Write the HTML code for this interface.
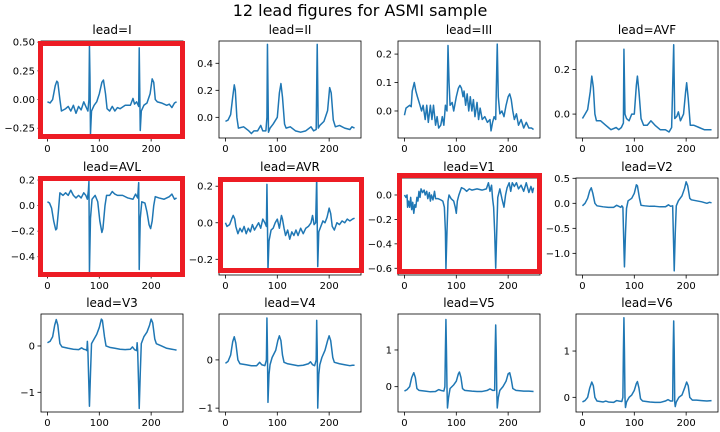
<!DOCTYPE html>
<html><head><meta charset="utf-8"><style>
html,body{margin:0;padding:0;background:#fff;}
svg{display:block;font-family:"DejaVu Sans","Liberation Sans",sans-serif;}
</style></head><body>
<svg id="fig" width="720" height="432" viewBox="0 0 720 432" xmlns="http://www.w3.org/2000/svg">
<rect width="720" height="432" fill="#fff"/>
<text x="360" y="16" text-anchor="middle" font-size="16" fill="#000">12 lead figures for ASMI sample</text>
</svg>
<script>
const leadNames = ["I","II","III","AVF","AVL","AVR","V1","V2","V3","V4","V5","V6"];
const xTicks = [0,100,200];
const leadI = [[0,-0.02],[5,-0.03],[10,0.0],[15,0.12],[18,0.16],[20,0.15],[24,0.0],[27,-0.1],[35,-0.08],[40,-0.06],[45,-0.1],[50,-0.05],[55,-0.12],[60,-0.06],[65,-0.09],[70,-0.02],[74,-0.06],[78,-0.1],[80,0.0],[81,0.47],[82,0.2],[83,-0.3],[85,-0.1],[90,-0.05],[95,-0.02],[100,0.05],[105,0.15],[108,0.17],[112,0.05],[115,-0.08],[120,-0.1],[125,-0.06],[130,-0.1],[135,-0.07],[140,-0.08],[150,-0.05],[160,-0.05],[165,0.01],[168,-0.04],[172,-0.02],[176,-0.06],[177,0.45],[178,0.1],[179,-0.27],[181,-0.1],[186,-0.05],[192,-0.03],[198,0.05],[202,0.18],[205,0.15],[208,0.0],[212,-0.02],[220,-0.03],[230,-0.05],[235,-0.04],[240,-0.07],[245,-0.03],[249,-0.02]];
const leadII = [[0,-0.03],[5,-0.02],[10,0.02],[14,0.15],[17,0.24],[19,0.2],[22,0.0],[25,-0.08],[35,-0.07],[45,-0.1],[50,-0.12],[55,-0.1],[62,-0.1],[68,-0.06],[72,-0.1],[78,-0.1],[80,0.0],[81,0.54],[83,-0.11],[86,-0.08],[92,-0.05],[100,0.0],[104,0.18],[107,0.25],[110,0.15],[114,-0.05],[117,-0.08],[125,-0.07],[135,-0.1],[145,-0.11],[155,-0.1],[165,-0.07],[170,-0.1],[175,-0.09],[177,0.54],[179,-0.08],[182,-0.06],[190,-0.03],[197,0.05],[201,0.22],[204,0.18],[208,-0.02],[212,-0.07],[220,-0.06],[230,-0.08],[240,-0.09],[244,-0.07],[249,-0.08]];
const leadIII = [[0,-0.015],[3,0.01],[10,0.02],[13,0.015],[15,0.07],[19,0.1],[22,0.07],[25,0.05],[30,0.02],[33,0.0],[36,0.02],[40,-0.03],[43,0.02],[46,-0.04],[50,0.02],[53,-0.03],[56,0.02],[60,-0.05],[63,-0.02],[66,-0.06],[70,-0.05],[73,-0.02],[76,-0.05],[79,0.02],[82,0.0],[84,0.23],[86,0.1],[88,0.02],[92,0.03],[95,0.0],[100,0.05],[104,0.08],[107,0.09],[110,0.08],[113,0.05],[115,0.07],[118,0.02],[121,0.06],[124,0.0],[127,0.05],[130,0.0],[133,0.04],[136,-0.02],[140,0.03],[143,-0.03],[146,0.01],[150,-0.03],[155,-0.02],[160,-0.04],[165,-0.03],[167,-0.07],[170,-0.04],[173,-0.02],[176,-0.03],[179,0.235],[181,0.05],[184,-0.01],[188,0.0],[192,-0.02],[196,0.02],[200,0.05],[203,0.06],[206,0.04],[209,0.0],[212,-0.03],[216,-0.01],[220,-0.05],[225,-0.03],[230,-0.06],[235,-0.04],[240,-0.06],[245,-0.06],[249,-0.065]];
const leadAVF = [[0,-0.02],[5,0.0],[10,0.02],[15,0.1],[18,0.17],[21,0.12],[24,0.0],[27,-0.03],[35,-0.03],[45,-0.05],[50,-0.06],[55,-0.07],[65,-0.06],[70,-0.07],[75,-0.06],[79,-0.04],[80,0.29],[82,0.0],[85,-0.02],[90,-0.03],[95,0.0],[100,0.0],[104,0.13],[106,0.17],[109,0.1],[113,-0.02],[118,-0.05],[125,-0.05],[132,-0.03],[140,-0.05],[150,-0.07],[160,-0.07],[167,-0.08],[172,-0.06],[176,0.31],[178,-0.02],[182,-0.01],[185,0.01],[189,-0.03],[195,0.0],[199,0.1],[201,0.14],[204,0.07],[208,-0.05],[215,-0.05],[225,-0.06],[235,-0.07],[245,-0.07],[249,-0.07]];
const leadAVL = [[0,0.03],[4,0.02],[8,-0.02],[12,-0.12],[16,-0.19],[18,-0.18],[21,-0.05],[24,0.1],[30,0.08],[35,0.1],[40,0.08],[45,0.12],[50,0.08],[55,0.06],[60,0.08],[65,0.06],[70,0.1],[74,0.08],[77,0.05],[79,0.12],[80,0.19],[81,-0.52],[83,-0.1],[86,0.05],[92,0.08],[97,0.03],[101,-0.12],[105,-0.21],[107,-0.18],[111,0.0],[114,0.08],[120,0.08],[125,0.11],[130,0.09],[135,0.08],[145,0.08],[155,0.06],[165,0.05],[170,0.09],[174,0.06],[176,0.18],[177,-0.5],[179,-0.1],[182,0.03],[188,0.02],[192,-0.05],[196,-0.15],[199,-0.18],[202,-0.12],[205,0.0],[208,0.07],[215,0.06],[225,0.05],[235,0.07],[240,0.09],[245,0.05],[249,0.06]];
const leadAVR = [[0,0.0],[3,-0.02],[8,-0.01],[12,0.02],[15,0.04],[18,0.02],[20,-0.02],[24,-0.06],[28,-0.03],[32,-0.05],[36,-0.02],[40,-0.06],[44,-0.03],[48,-0.05],[52,-0.01],[56,-0.04],[60,-0.02],[64,0.0],[68,-0.03],[72,0.02],[76,0.0],[79,-0.02],[80,0.21],[81,0.0],[82,-0.26],[84,-0.1],[88,-0.04],[92,-0.03],[96,0.0],[100,0.02],[104,-0.03],[108,0.04],[110,0.02],[113,-0.03],[116,-0.07],[120,-0.04],[124,-0.09],[128,-0.05],[132,-0.07],[136,-0.04],[140,-0.07],[145,-0.03],[150,-0.06],[155,-0.03],[160,-0.02],[165,0.0],[168,0.04],[171,-0.01],[174,0.0],[176,0.25],[177,0.0],[178,-0.24],[180,-0.05],[184,-0.02],[188,0.01],[192,0.0],[196,0.03],[200,0.08],[203,0.05],[206,-0.02],[210,-0.04],[215,0.0],[220,-0.01],[225,0.01],[230,0.0],[235,0.02],[240,0.01],[245,0.02],[249,0.025]];
const leadV1 = [[0,0.0],[3,-0.02],[5,0.0],[6,-0.1],[8,-0.05],[10,-0.1],[12,-0.02],[14,-0.12],[16,-0.06],[18,-0.15],[20,-0.08],[22,-0.1],[24,-0.02],[26,-0.05],[28,0.03],[30,-0.02],[32,0.05],[35,0.02],[38,0.04],[40,0.0],[43,0.03],[45,-0.03],[48,0.02],[50,-0.05],[52,0.0],[55,-0.04],[58,0.03],[60,-0.03],[65,-0.03],[70,-0.04],[74,-0.05],[77,-0.1],[79,-0.3],[80,-0.61],[82,-0.3],[84,-0.05],[86,0.0],[90,-0.03],[95,-0.05],[98,-0.1],[100,-0.15],[102,-0.05],[105,0.0],[110,0.06],[115,0.05],[120,0.03],[125,0.05],[130,0.04],[140,0.05],[150,0.04],[158,0.05],[162,0.1],[165,0.03],[168,0.08],[170,-0.03],[172,-0.1],[174,-0.3],[176,-0.6],[178,-0.3],[180,-0.02],[184,0.05],[188,-0.03],[192,-0.1],[195,0.0],[198,0.06],[202,0.1],[205,0.03],[208,0.1],[212,0.07],[216,0.1],[220,0.05],[225,0.08],[230,0.03],[235,0.1],[240,0.02],[244,0.07],[247,0.02],[249,0.06]];
const leadV2 = [[0,-0.05],[5,0.0],[10,0.1],[14,0.25],[17,0.31],[20,0.2],[24,0.0],[28,-0.05],[40,-0.07],[50,-0.08],[60,-0.08],[66,-0.04],[70,-0.06],[74,-0.08],[76,-0.05],[78,-0.08],[80,-0.9],[81,-1.27],[83,-0.6],[85,-0.1],[88,0.05],[95,0.1],[100,0.2],[104,0.37],[106,0.35],[110,0.1],[113,-0.04],[120,-0.05],[130,-0.06],[140,-0.06],[150,-0.07],[160,-0.07],[166,-0.03],[170,-0.06],[174,-0.05],[176,-0.9],[177,-1.35],[179,-0.6],[181,-0.05],[185,0.05],[192,0.15],[197,0.3],[200,0.43],[203,0.35],[207,0.1],[210,0.07],[220,0.05],[230,0.03],[240,0.0],[245,0.02],[249,0.01]];
const leadV3 = [[0,0.07],[5,0.1],[10,0.2],[14,0.45],[17,0.57],[20,0.45],[24,0.05],[28,-0.02],[40,-0.05],[50,-0.07],[60,-0.08],[66,-0.04],[70,-0.07],[74,-0.08],[76,-0.1],[77,0.1],[78,-0.1],[80,-0.9],[81,-1.3],[83,-0.6],[85,0.05],[90,0.15],[95,0.25],[100,0.4],[104,0.58],[106,0.55],[110,0.2],[113,0.0],[120,-0.03],[130,-0.05],[140,-0.07],[150,-0.08],[160,-0.07],[164,-0.02],[168,-0.08],[172,-0.1],[173,0.07],[174,-0.1],[176,-0.9],[177,-1.35],[179,-0.6],[181,0.05],[186,0.2],[192,0.3],[197,0.45],[200,0.58],[203,0.5],[207,0.15],[210,0.05],[220,0.0],[230,-0.05],[240,-0.07],[245,-0.08],[249,-0.09]];
const leadV4 = [[0,-0.07],[5,-0.03],[10,0.1],[14,0.38],[17,0.48],[20,0.35],[24,0.0],[28,-0.08],[40,-0.1],[50,-0.12],[60,-0.12],[66,-0.05],[70,-0.1],[76,-0.12],[79,0.0],[80,0.87],[81,0.2],[82,-0.88],[84,-0.3],[86,-0.1],[90,0.05],[97,0.2],[101,0.4],[104,0.5],[107,0.4],[110,0.1],[113,-0.05],[120,-0.08],[130,-0.1],[140,-0.12],[150,-0.11],[160,-0.08],[164,-0.04],[168,-0.1],[172,-0.12],[175,0.0],[176,0.82],[177,0.2],[178,-1.0],[180,-0.3],[182,-0.1],[186,0.05],[192,0.2],[197,0.4],[200,0.5],[203,0.4],[207,0.05],[210,-0.05],[220,-0.08],[230,-0.1],[240,-0.12],[245,-0.11],[249,-0.11]];
const leadV5 = [[0,-0.12],[5,-0.08],[10,0.0],[14,0.25],[18,0.38],[21,0.25],[24,-0.05],[28,-0.1],[40,-0.12],[50,-0.14],[60,-0.13],[66,-0.08],[70,-0.1],[76,-0.12],[78,0.0],[79,1.0],[80,1.83],[81,1.0],[82,0.0],[83,-0.58],[85,-0.3],[88,-0.05],[95,0.05],[100,0.15],[104,0.35],[106,0.4],[109,0.25],[112,-0.05],[116,-0.1],[130,-0.12],[140,-0.13],[150,-0.13],[160,-0.1],[165,-0.06],[170,-0.1],[174,-0.1],[175,1.0],[176,1.68],[177,1.0],[178,-0.1],[179,-0.58],[181,-0.3],[184,-0.1],[190,0.0],[196,0.15],[200,0.35],[203,0.38],[206,0.2],[209,-0.05],[215,-0.1],[230,-0.12],[240,-0.12],[249,-0.13]];
const leadV6 = [[0,-0.1],[5,-0.07],[10,0.0],[14,0.2],[18,0.33],[21,0.25],[24,0.0],[28,-0.08],[40,-0.1],[45,-0.08],[50,-0.1],[60,-0.11],[66,-0.07],[70,-0.08],[76,-0.09],[78,0.0],[79,1.0],[80,1.72],[81,1.0],[82,0.0],[83,-0.22],[85,-0.1],[90,0.0],[95,0.05],[100,0.15],[104,0.3],[106,0.34],[109,0.2],[112,-0.03],[116,-0.08],[130,-0.1],[140,-0.11],[150,-0.11],[160,-0.08],[165,-0.05],[170,-0.08],[174,-0.08],[175,1.0],[176,1.65],[177,1.0],[178,-0.1],[179,-0.2],[181,-0.1],[186,0.0],[192,0.05],[197,0.2],[201,0.33],[204,0.25],[207,0.0],[212,-0.06],[220,-0.06],[230,-0.07],[240,-0.08],[249,-0.07]];
const leadSeries = [leadI,leadII,leadIII,leadAVF,leadAVL,leadAVR,leadV1,leadV2,leadV3,leadV4,leadV5,leadV6];
const yTickLabels = [["−0.25","0.00","0.25","0.50"],["0.0","0.2","0.4"],["0.0","0.1","0.2"],["0.0","0.2"],["−0.4","−0.2","0.0","0.2"],["−0.2","0.0","0.2"],["−0.6","−0.4","−0.2","0.0"],["−1.0","−0.5","0.0","0.5"],["−1","0"],["−1","0"],["0","1"],["0","1"]];
const yTickValues = [[-0.25,0,0.25,0.5],[0,0.2,0.4],[0,0.1,0.2],[0,0.2],[-0.4,-0.2,0,0.2],[-0.2,0,0.2],[-0.6,-0.4,-0.2,0],[-1,-0.5,0,0.5],[-1,0],[-1,0],[0,1],[0,1]];
const yLimits = [[-0.335,0.51],[-0.153,0.565],[-0.095,0.246],[-0.107,0.327],[-0.543,0.216],[-0.286,0.245],[-0.655,0.139],[-1.433,0.506],[-1.425,0.69],[-1.08,0.952],[-0.69,1.98],[-0.317,1.80]];
const highlighted = ["I","AVL","AVR","V1"];

const NS="http://www.w3.org/2000/svg";
const svg=document.getElementById('fig');
const colL=[41,219,398,576], axW=142;
const rowT=[41,178,314], rowB=[138,275,412];
const redBoxes={"I":[40.5,43.5,142,93],"AVL":[40.5,178.5,142,96],"AVR":[220.5,179.5,141,91],"V1":[399.5,175.5,140,96]};
function mk(tag,attrs,parent){const e=document.createElementNS(NS,tag);for(const k in attrs)e.setAttribute(k,attrs[k]);(parent||svg).appendChild(e);return e;}
leadNames.forEach((name,i)=>{
  const r=Math.floor(i/4), c=i%4;
  const L=colL[c], T=rowT[r], B=rowB[r], H=B-T;
  const g=mk('g',{});
  
  
  const xmin=-12.45, xmax=261.45;
  const xs=v=>L+(v-xmin)/(xmax-xmin)*axW;
  const [y0,y1]=yLimits[i];
  const ys=v=>B-(v-y0)/(y1-y0)*H;
  const clip=mk('clipPath',{id:'clip'+i},g);
  mk('rect',{x:L,y:T,width:axW,height:H},clip);
  const t=mk('text',{x:L+axW/2,y:T-7,'text-anchor':'middle','font-size':12,fill:'#000'},g);
  t.textContent='lead='+name;
  
  
  const pts=leadSeries[i].map(p=>xs(p[0]).toFixed(2)+','+ys(p[1]).toFixed(2)).join(' ');
  const pl=mk('polyline',{points:pts,fill:'none',stroke:'#1f77b4','stroke-width':1.5,'stroke-linejoin':'round','clip-path':'url(#clip'+i+')'},g);
  
  
  const fr=mk('rect',{x:L,y:T,width:axW,height:H,fill:'none',stroke:'#000','stroke-width':0.8},g);
  
  
  xTicks.forEach(v=>{
    const x=xs(v);
    mk('line',{x1:x,x2:x,y1:B,y2:B+3.5,stroke:'#000','stroke-width':0.8},g);
    const tl=mk('text',{x:x,y:B+14,'text-anchor':'middle','font-size':10,fill:'#000'},g);
    tl.textContent=v;
    
    
  });
  yTickValues[i].forEach((v,k)=>{
    const y=ys(v);
    mk('line',{x1:L-3.5,x2:L,y1:y,y2:y,stroke:'#000','stroke-width':0.8},g);
    const tl=mk('text',{x:L-6,y:y+3.5,'text-anchor':'end','font-size':10,fill:'#000'},g);
    tl.textContent=yTickLabels[i][k];
    
    
  });
  if(highlighted.includes(name)){
    const b=redBoxes[name];
    const rb=mk('rect',{x:b[0],y:b[1],width:b[2],height:b[3],fill:'none',stroke:'#ed1c24','stroke-width':5},g);
    
    
  }
});
</script>
</body></html>
